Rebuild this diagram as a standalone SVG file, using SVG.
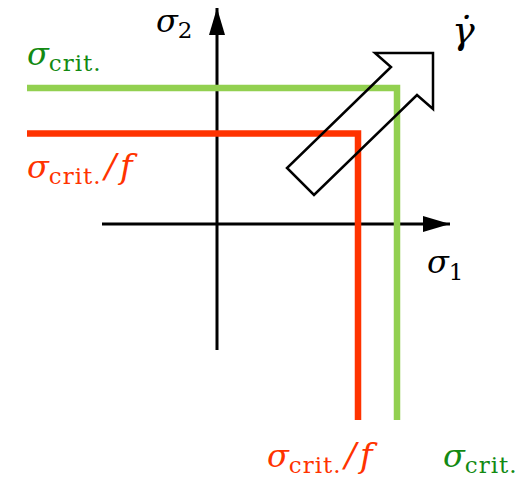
<svg xmlns="http://www.w3.org/2000/svg" width="526" height="481" viewBox="0 0 526 481">
<style>
.t{font-family:"DejaVu Serif","Liberation Serif",serif}
.s{font-style:italic;font-size:32px}
.sub{font-style:normal;font-size:23px}
.f{font-size:34px}
.g{fill:#138a13}
.r{fill:#ff3300}
.k{fill:#000}
</style>
<defs>
<marker id="ah" markerWidth="28" markerHeight="16" refX="27" refY="8" orient="auto" markerUnits="userSpaceOnUse">
<path d="M0,0 L27,8 L0,16 Z" fill="#000"/>
</marker>
</defs>
<g id="connectors">
<line id="axis1" x1="102" y1="224" x2="450" y2="224" stroke="#000" stroke-width="3" marker-end="url(#ah)"/>
<line id="axis2" x1="217" y1="350" x2="217" y2="8" stroke="#000" stroke-width="3" marker-end="url(#ah)"/>
</g>
<g id="crit-line">
<polyline points="27,88 397,88 397,420" fill="none" stroke="#92d050" stroke-width="6.5"/>
</g>
<g id="critf-line">
<polyline points="27,133.5 358,133.5 358,420" fill="none" stroke="#ff3300" stroke-width="6.5"/>
</g>
<g id="rate-arrow">
<polygon points="433,53 375,53 391,67 287,168 314,195 417,95 433,109" fill="none" stroke="#000" stroke-width="2.5" stroke-linejoin="miter"/>
</g>
<g id="labels">
<text class="t s k" x="156" y="32">σ<tspan class="sub" dy="6">2</tspan></text>
<text class="t s k" x="427" y="273">σ<tspan class="sub" dy="7">1</tspan></text>
<text class="t k" x="452" y="43" font-size="38" font-style="italic">γ̇</text>
<text class="t s g" x="27" y="65">σ<tspan class="sub" dy="6" letter-spacing="1">crit.</tspan></text>
<text class="t s r" x="27" y="178">σ<tspan class="sub" dy="6" letter-spacing="1">crit.</tspan><tspan class="f" dy="-6" dx="3">/</tspan><tspan class="f" dx="4">f</tspan></text>
<text class="t s r" x="267" y="467">σ<tspan class="sub" dy="6" letter-spacing="1">crit.</tspan><tspan class="f" dy="-6" dx="3">/</tspan><tspan class="f" dx="4">f</tspan></text>
<text class="t s g" x="443" y="467">σ<tspan class="sub" dy="6" letter-spacing="1">crit.</tspan></text>
</g>
</svg>
